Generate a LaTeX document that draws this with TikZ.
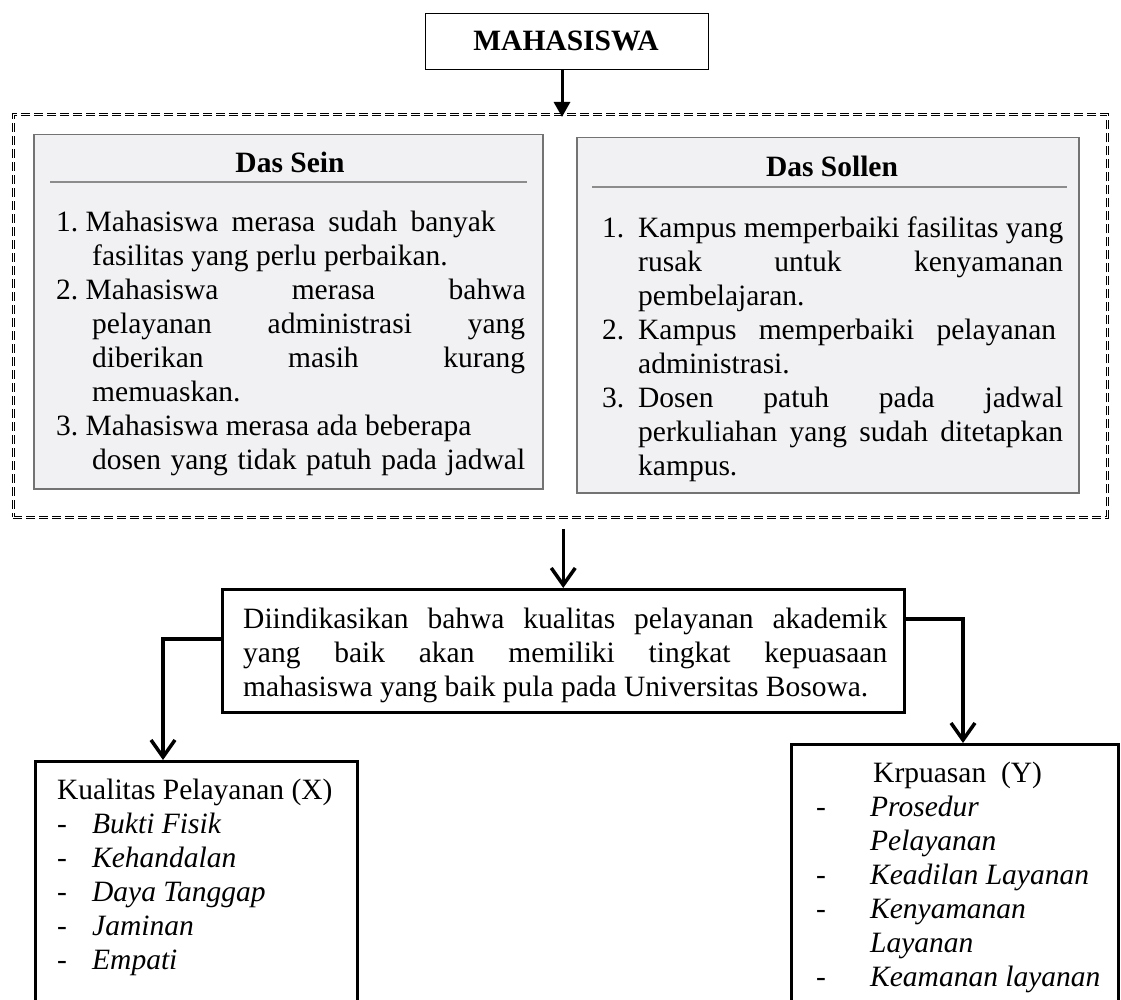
\documentclass[tikz,border=0pt]{standalone}
\usepackage{fontspec}
\setmainfont{Liberation Serif}
\usetikzlibrary{arrows.meta,positioning,calc}

\definecolor{boxgray}{RGB}{241,241,243}
\newcommand{\numl}[2]{\makebox[#1][l]{#2}}
\newcommand{\sline}[2]{\makebox[#1][s]{#2}}

\tikzset{
  txt/.style={font=\fontsize{29.5}{34}\selectfont, inner sep=0pt, align=left, anchor=north west},
  plainbox/.style={draw, line width=#1, anchor=north west, inner sep=0pt},
  graybox/.style={draw=black!55, line width=1.5pt, fill=boxgray, anchor=north west, inner sep=0pt},
  conn/.style={line width=3.5pt, -{Straight Barb[length=17pt,width=24pt]}},
}

\begin{document}
\begin{tikzpicture}[x=1pt, y=-1pt]
        \clip (0,0) rectangle (1121,1000);
        \fill[white] (0,0) rectangle (1121,1000);

        % Mahasiswa
        \node[plainbox=1pt, minimum width=283pt, minimum height=56pt] (mhs) at (425,13) {};
        \node[txt, anchor=base, font=\fontsize{29.5}{34}\selectfont\bfseries] (mhstxt) at (566,51) {MAHASISWA};

        % Frame
        \node[draw, anchor=north west, inner sep=0pt, line width=0.8pt, double distance=1.6pt,
              dash pattern=on 9pt off 4pt, minimum width=1094pt, minimum height=403pt] (frame) at (13,114) {};
        \draw[line width=3pt, -{Triangle[length=15pt,width=16pt]}] (mhs.south -| 562,0) -- (562,117);

        % Das Sein
        \node[graybox, minimum width=509pt, minimum height=354pt] (sein) at (33,134) {};
        \node[txt, anchor=base, font=\fontsize{29.5}{34}\selectfont\bfseries] (seinhead) at (290,173) {Das Sein};
        \draw[black!45, line width=2.5pt] (50,182) -- (527,182);
        \node[txt] (seintxt) at (56,211) {%
          \numl{29.5pt}{1.}\sline{410pt}{Mahasiswa merasa sudah banyak}\\
          \hspace*{36pt}fasilitas yang perlu perbaikan.\\
          \numl{29.5pt}{2.}\sline{440pt}{Mahasiswa merasa bahwa}\\
          \hspace*{36pt}\sline{433pt}{pelayanan administrasi yang}\\
          \hspace*{36pt}\sline{433pt}{diberikan masih kurang}\\
          \hspace*{36pt}memuaskan.\\
          \numl{29.5pt}{3.}Mahasiswa merasa ada beberapa\\
          \hspace*{36pt}\sline{433pt}{dosen yang tidak patuh pada jadwal}};

        % Das Sollen
        \node[graybox, minimum width=502pt, minimum height=355pt] (sollen) at (576,137) {};
        \node[txt, anchor=base, font=\fontsize{29.5}{34}\selectfont\bfseries] (sollenhead) at (832,177) {Das Sollen};
        \draw[black!45, line width=2.5pt] (592,187) -- (1067,187);
        \node[txt] (sollentxt) at (602,217) {%
          \numl{36pt}{1.}\sline{425pt}{Kampus memperbaiki fasilitas yang}\\
          \hspace*{36pt}\sline{425pt}{rusak untuk kenyamanan}\\
          \hspace*{36pt}pembelajaran.\\
          \numl{36pt}{2.}\sline{418pt}{Kampus memperbaiki pelayanan}\\
          \hspace*{36pt}administrasi.\\
          \numl{36pt}{3.}\sline{425pt}{Dosen patuh pada jadwal}\\
          \hspace*{36pt}\sline{425pt}{perkuliahan yang sudah ditetapkan}\\
          \hspace*{36pt}kampus.};

        % Indikasi
        \node[plainbox=2.5pt, minimum width=682pt, minimum height=123pt] (mid) at (221,588) {};
        \node[txt] (midtxt) at (243,608) {%
          \sline{644pt}{Diindikasikan bahwa kualitas pelayanan akademik}\\
          \sline{644pt}{yang baik akan memiliki tingkat kepuasaan}\\
          mahasiswa yang baik pula pada Universitas Bosowa.};
        \draw[conn, shorten <=11pt] (frame.south -| mid.north) -- (mid.north);

        % Variabel X dan Y
        \node[plainbox=2.5pt, minimum width=322pt, minimum height=250pt] (kual) at (34,760) {};
        \node[txt] (kualtxt) at (57,779) {%
          Kualitas Pelayanan (X)\\
          \numl{35pt}{-}\textit{Bukti Fisik}\\
          \numl{35pt}{-}\textit{Kehandalan}\\
          \numl{35pt}{-}\textit{Daya Tanggap}\\
          \numl{35pt}{-}\textit{Jaminan}\\
          \numl{35pt}{-}\textit{Empati}};

        \node[plainbox=2.5pt, minimum width=327pt, minimum height=267pt] (puas) at (790,743) {};
        \node[txt] (puastxt) at (816,762) {%
          \hspace*{57pt}Krpuasan~~(Y)\\
          \numl{54pt}{-}\textit{Prosedur}\\
          \hspace*{54pt}\textit{Pelayanan}\\
          \numl{54pt}{-}\textit{Keadilan Layanan}\\
          \numl{54pt}{-}\textit{Kenyamanan}\\
          \hspace*{54pt}\textit{Layanan}\\
          \numl{54pt}{-}\textit{Keamanan layanan}};

        \coordinate (kualin) at (163,760);
        \coordinate (puasin) at (963,743);
        \draw[conn] (mid.west |- 0,639) -| (kualin);
        \draw[conn] (mid.east |- 0,619) -| (puasin);

    \end{tikzpicture}
\end{document}
